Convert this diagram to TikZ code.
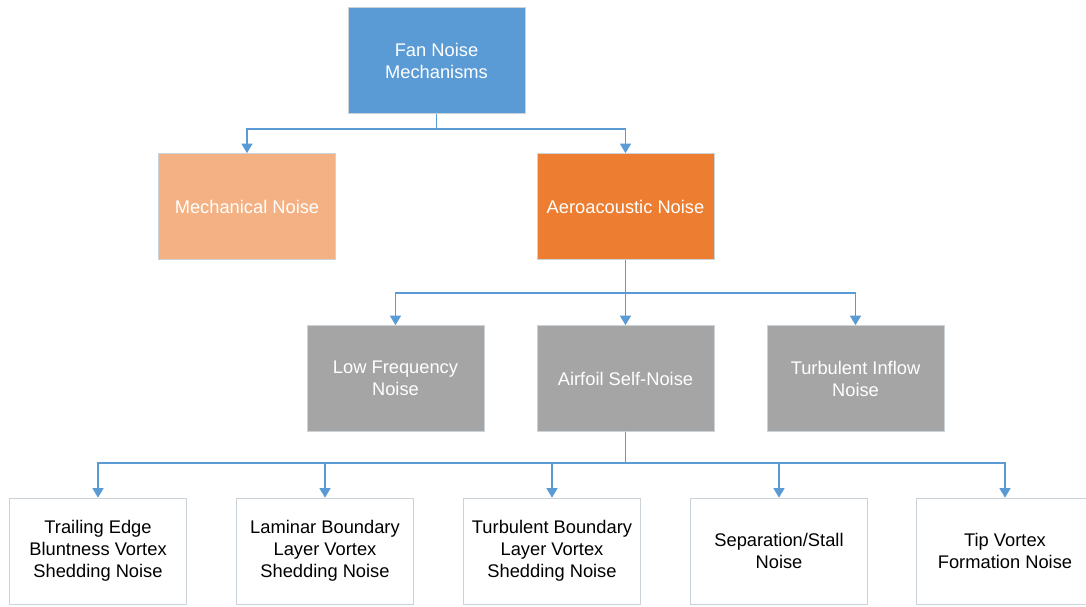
\documentclass[tikz,border=0pt]{standalone}
\usepackage{fontspec}
\setmainfont{Liberation Sans}
\usetikzlibrary{arrows.meta}
\definecolor{fanblue}{HTML}{5B9BD5}
\definecolor{lightorange}{HTML}{F4B183}
\definecolor{darkorange}{HTML}{ED7D31}
\definecolor{midgray}{HTML}{A5A5A5}
\definecolor{edgegray}{HTML}{CBD2D8}

\begin{document}
\begin{tikzpicture}[x=1pt,y=-1pt]
\tikzstyle{box}=[draw=edgegray,line width=0.7pt,minimum width=177pt,minimum height=106pt,
  align=center,inner sep=0pt,font=\fontsize{18.3}{22}\selectfont]
\tikzstyle{colbox}=[box,text=white]
\tikzstyle{link}=[draw=fanblue,line width=1.3pt,-{Triangle[width=11pt,length=9.5pt]}]
\useasboundingbox (0,0) rectangle (1086,606);
% top level
\node[colbox,fill=fanblue] (fan) at (436.5,60.5) {Fan Noise\\Mechanisms};
\node[colbox,fill=lightorange] (mech) at (247,206.5) {Mechanical Noise};
\node[colbox,fill=darkorange] (aero) at (625.5,206.5) {Aeroacoustic Noise};
% aeroacoustic branches
\node[colbox,fill=midgray] (lowf) at (395.5,378.5) {Low Frequency\\Noise};
\node[colbox,fill=midgray] (self) at (625.5,378.5) {Airfoil Self-Noise};
\node[colbox,fill=midgray] (inflow) at (855.5,378.5) {Turbulent Inflow\\Noise};
% self-noise mechanisms
\node[box,fill=white] (tebvs) at (98,551) {Trailing Edge\\Bluntness Vortex\\Shedding Noise};
\node[box,fill=white] (lbl) at (325,551) {Laminar Boundary\\Layer Vortex\\Shedding Noise};
\node[box,fill=white] (tbl) at (552,551) {Turbulent Boundary\\Layer Vortex\\Shedding Noise};
\node[box,fill=white] (stall) at (779,551) {Separation/Stall\\Noise};
\node[box,fill=white] (tip) at (1005,551) {Tip Vortex\\Formation Noise};
% connectors
\draw[link] (fan.south) -- ++(0,15) -| (mech.north);
\draw[link] (fan.south) -- ++(0,15) -| (aero.north);
\draw[link] (aero.south) -- ++(0,33) -| (lowf.north);
\draw[link] (aero.south) -- (self.north);
\draw[link] (aero.south) -- ++(0,33) -| (inflow.north);
\foreach \n in {tebvs,lbl,tbl,stall,tip}
  \draw[link] (self.south) -- ++(0,31) -| (\n.north);
\end{tikzpicture}
\end{document}
